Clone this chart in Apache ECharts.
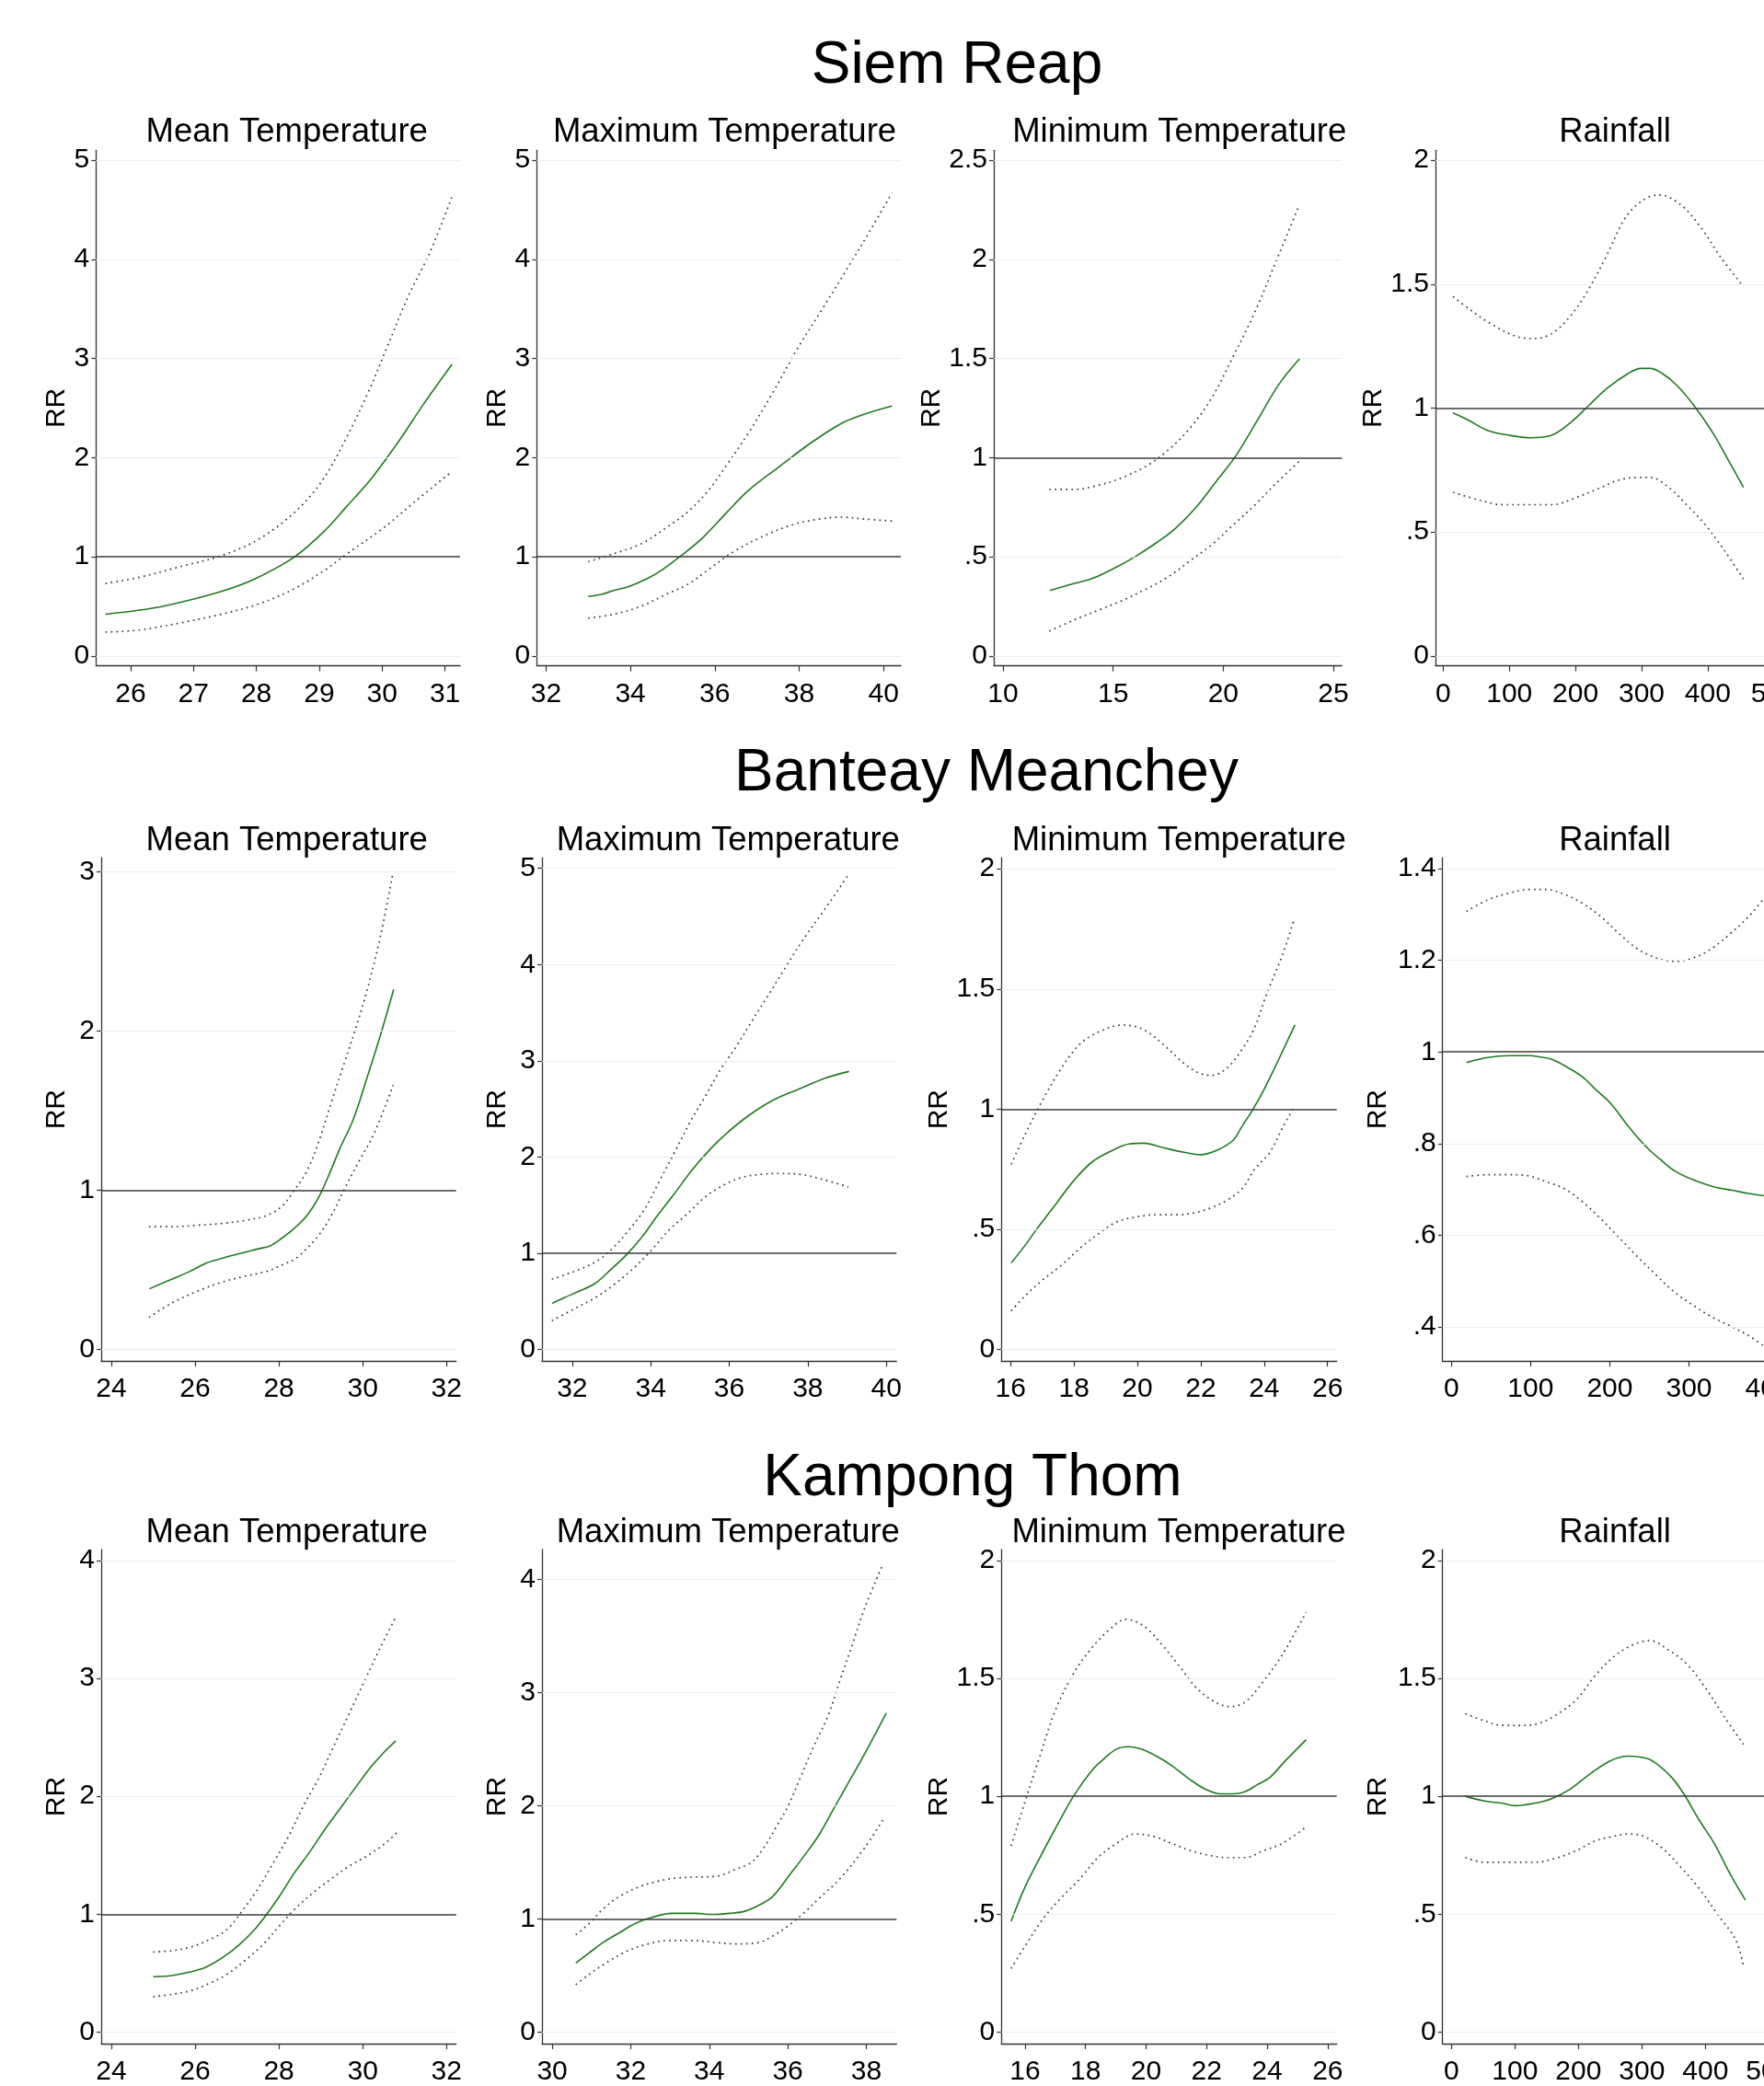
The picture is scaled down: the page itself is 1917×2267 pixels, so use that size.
<!DOCTYPE html>
<html><head><meta charset="utf-8">
<script src="https://cdn.jsdelivr.net/npm/echarts@6/dist/echarts.min.js"></script>
<style>html,body{margin:0;padding:0;background:#fff;overflow:hidden;width:1917px;height:2267px}#c{width:2000px;height:2267px}</style>
</head><body><div id="c"></div>
<script>
// ---------- DATA ----------
const regions = ['Siem Reap', 'Banteay Meanchey', 'Kampong Thom'];
const panelTitles = ['Mean Temperature', 'Maximum Temperature', 'Minimum Temperature', 'Rainfall'];

// Siem Reap
const srMeanXTicks = [26, 27, 28, 29, 30, 31];
const srMeanYTicks = [0, 1, 2, 3, 4, 5];
const srMeanRR = [[25.6,0.42],[26.12,0.46],[26.51,0.50],[27.05,0.58],[27.59,0.68],[28.02,0.79],[28.61,1.0],[29.1,1.27],[29.44,1.51],[29.83,1.79],[30.27,2.17],[30.66,2.54],[31.11,2.94]];
const srMeanHi = [[25.6,0.73],[26.12,0.79],[26.85,0.91],[27.44,1.01],[28.02,1.17],[28.61,1.45],[29.05,1.77],[29.44,2.21],[29.78,2.66],[30.07,3.10],[30.41,3.62],[30.76,4.07],[31.11,4.63]];
const srMeanLo = [[25.6,0.24],[26.12,0.26],[26.85,0.34],[27.44,0.42],[28.02,0.52],[28.61,0.68],[29.1,0.87],[29.44,1.03],[30.02,1.29],[30.51,1.55],[31.11,1.86]];

const srMaxXTicks = [32, 34, 36, 38, 40];
const srMaxYTicks = [0, 1, 2, 3, 4, 5];
const srMaxRR = [[33.0,0.60],[33.31,0.62],[33.6,0.66],[33.96,0.70],[34.4,0.78],[34.76,0.87],[35.2,1.01],[35.71,1.19],[36.29,1.45],[36.8,1.67],[37.53,1.91],[38.25,2.14],[38.98,2.34],[39.56,2.44],[40.2,2.52]];
const srMaxHi = [[33.0,0.95],[33.6,1.03],[34.25,1.13],[34.84,1.29],[35.35,1.45],[35.85,1.67],[36.29,1.93],[36.8,2.25],[37.38,2.66],[37.96,3.10],[38.55,3.50],[39.13,3.90],[39.71,4.31],[40.2,4.67]];
const srMaxLo = [[33.0,0.38],[33.6,0.42],[34.25,0.50],[34.84,0.62],[35.35,0.72],[35.85,0.87],[36.44,1.05],[37.16,1.21],[37.89,1.33],[38.47,1.38],[38.98,1.40],[39.56,1.38],[40.2,1.36]];

const srMinXTicks = [10, 15, 20, 25];
const srMinYTicks = [0, 0.5, 1, 1.5, 2, 2.5];
const srMinRR = [[12.13,0.33],[13.06,0.36],[14.04,0.39],[15.01,0.44],[15.99,0.50],[16.96,0.57],[17.8,0.64],[18.77,0.75],[19.75,0.89],[20.58,1.01],[21.56,1.19],[22.53,1.37],[23.48,1.50]];
const srMinHi = [[12.1,0.84],[13.2,0.84],[14.32,0.86],[15.43,0.90],[16.55,0.96],[17.52,1.04],[18.5,1.15],[19.47,1.30],[20.45,1.51],[21.42,1.73],[22.4,1.99],[23.44,2.27]];
const srMinLo = [[12.1,0.125],[13.2,0.18],[14.32,0.23],[15.43,0.28],[16.55,0.34],[17.52,0.40],[18.5,0.48],[19.47,0.56],[20.45,0.66],[21.42,0.76],[22.4,0.87],[23.44,0.98]];

const srRainXTicks = [0, 100, 200, 300, 400, 500];
const srRainYTicks = [0, 0.5, 1, 1.5, 2];
const srRainRR = [[15,0.98],[39,0.95],[67,0.91],[100,0.89],[132,0.88],[164,0.89],[192,0.94],[220,1.01],[248,1.08],[280,1.14],[299,1.16],[313,1.16],[331,1.14],[354,1.09],[382,1.00],[410,0.89],[429,0.80],[454,0.68]];
const srRainHi = [[15,1.45],[39,1.40],[72,1.34],[109,1.29],[137,1.28],[164,1.30],[192,1.37],[220,1.48],[248,1.62],[276,1.77],[303,1.84],[327,1.86],[359,1.82],[392,1.72],[419,1.61],[454,1.49]];
const srRainLo = [[15,0.66],[53,0.63],[90,0.61],[127,0.61],[164,0.61],[202,0.64],[239,0.68],[266,0.71],[294,0.72],[313,0.72],[341,0.68],[368,0.61],[396,0.53],[424,0.43],[454,0.31]];

// Banteay Meanchey
const bmMeanXTicks = [24, 26, 28, 30, 32];
const bmMeanYTicks = [0, 1, 2, 3];
const bmMeanRR = [[24.91,0.38],[25.44,0.44],[25.88,0.49],[26.25,0.54],[26.62,0.57],[27.05,0.60],[27.49,0.63],[27.79,0.65],[28.08,0.70],[28.37,0.76],[28.67,0.84],[28.96,0.96],[29.25,1.13],[29.47,1.27],[29.77,1.44],[30.06,1.67],[30.42,1.97],[30.74,2.26]];
const bmMeanHi = [[24.9,0.77],[25.44,0.77],[26.1,0.78],[26.62,0.79],[27.2,0.81],[27.71,0.84],[28.08,0.90],[28.37,1.00],[28.67,1.12],[28.96,1.31],[29.25,1.55],[29.55,1.79],[29.84,2.02],[30.13,2.28],[30.42,2.59],[30.72,2.99]];
const bmMeanLo = [[24.9,0.20],[25.44,0.29],[26.1,0.37],[26.62,0.42],[27.2,0.46],[27.71,0.49],[28.08,0.53],[28.45,0.58],[28.96,0.72],[29.25,0.84],[29.55,1.00],[29.91,1.18],[30.28,1.36],[30.73,1.66]];

const bmMaxXTicks = [32, 34, 36, 38, 40];
const bmMaxYTicks = [0, 1, 2, 3, 4, 5];
const bmMaxRR = [[31.49,0.48],[31.8,0.54],[32.2,0.61],[32.59,0.69],[32.98,0.83],[33.37,0.98],[33.76,1.16],[34.15,1.38],[34.62,1.63],[35.08,1.88],[35.51,2.08],[35.94,2.25],[36.49,2.43],[37.11,2.59],[37.74,2.70],[38.44,2.82],[39.05,2.89]];
const bmMaxHi = [[31.48,0.73],[32.04,0.81],[32.59,0.91],[33.05,1.06],[33.44,1.24],[33.83,1.45],[34.22,1.75],[34.62,2.06],[35.01,2.37],[35.4,2.64],[35.79,2.92],[36.18,3.15],[36.57,3.41],[36.96,3.66],[37.43,3.97],[37.9,4.27],[38.44,4.58],[39.03,4.93]];
const bmMaxLo = [[31.48,0.30],[32.04,0.42],[32.59,0.54],[33.05,0.67],[33.52,0.83],[33.99,1.02],[34.46,1.24],[34.93,1.41],[35.4,1.59],[35.86,1.71],[36.33,1.79],[36.8,1.82],[37.27,1.83],[37.82,1.82],[38.36,1.77],[39.03,1.69]];

const bmMinXTicks = [16, 18, 20, 22, 24, 26];
const bmMinYTicks = [0, 0.5, 1, 1.5, 2];
const bmMinRR = [[16.02,0.36],[16.44,0.43],[16.82,0.50],[17.4,0.60],[17.98,0.70],[18.57,0.78],[19.24,0.83],[19.73,0.855],[20.21,0.858],[20.79,0.84],[21.47,0.82],[22.0,0.81],[22.53,0.83],[23.02,0.87],[23.31,0.93],[23.65,1.00],[23.99,1.08],[24.47,1.21],[24.97,1.35]];
const bmMinHi = [[16.02,0.77],[16.44,0.89],[17.02,1.04],[17.6,1.17],[18.18,1.27],[18.76,1.32],[19.53,1.35],[20.21,1.33],[20.89,1.26],[21.47,1.19],[21.95,1.15],[22.34,1.14],[22.82,1.17],[23.31,1.25],[23.7,1.34],[24.08,1.48],[24.57,1.64],[24.95,1.79]];
const bmMinLo = [[16.02,0.16],[16.44,0.22],[17.02,0.29],[17.6,0.35],[18.18,0.42],[18.76,0.48],[19.34,0.53],[19.92,0.55],[20.6,0.56],[21.28,0.56],[21.86,0.57],[22.34,0.59],[22.82,0.62],[23.31,0.67],[23.7,0.75],[24.18,0.82],[24.57,0.92],[24.95,1.01]];

const bmRainXTicks = [0, 100, 200, 300, 400];
const bmRainYTicks = [0.4, 0.6, 0.8, 1, 1.2, 1.4];
const bmRainRR = [[19,0.977],[46,0.988],[73,0.992],[100,0.992],[112,0.989],[127,0.984],[150,0.963],[166,0.945],[181,0.920],[201,0.888],[224,0.836],[247,0.791],[266,0.762],[282,0.740],[305,0.721],[332,0.705],[355,0.698],[375,0.691],[395,0.686]];
const bmRainHi = [[19,1.307],[46,1.332],[73,1.347],[100,1.355],[119,1.355],[143,1.344],[166,1.324],[189,1.295],[212,1.258],[235,1.225],[259,1.205],[282,1.198],[305,1.205],[328,1.225],[352,1.258],[375,1.295],[395,1.336]];
const bmRainLo = [[19,0.728],[46,0.732],[73,0.732],[96,0.730],[119,0.717],[143,0.701],[166,0.672],[189,0.635],[212,0.594],[235,0.553],[259,0.512],[282,0.475],[305,0.447],[328,0.422],[352,0.402],[375,0.381],[395,0.357]];

// Kampong Thom
const ktMeanXTicks = [24, 26, 28, 30, 32];
const ktMeanYTicks = [0, 1, 2, 3, 4];
const ktMeanRR = [[25.0,0.47],[25.44,0.48],[25.88,0.51],[26.25,0.55],[26.69,0.64],[27.05,0.74],[27.42,0.87],[27.71,1.00],[28.01,1.15],[28.37,1.35],[28.74,1.53],[29.1,1.72],[29.47,1.90],[29.84,2.08],[30.2,2.25],[30.5,2.37],[30.79,2.47]];
const ktMeanHi = [[25.0,0.68],[25.44,0.69],[25.88,0.72],[26.32,0.78],[26.76,0.87],[27.13,1.03],[27.49,1.21],[27.86,1.43],[28.23,1.66],[28.59,1.92],[28.96,2.16],[29.33,2.44],[29.69,2.71],[30.06,2.99],[30.42,3.26],[30.79,3.52]];
const ktMeanLo = [[25.0,0.30],[25.44,0.32],[25.88,0.35],[26.32,0.41],[26.76,0.49],[27.2,0.61],[27.64,0.75],[28.01,0.90],[28.37,1.04],[28.81,1.18],[29.25,1.30],[29.69,1.41],[30.13,1.50],[30.5,1.59],[30.81,1.69]];

const ktMaxXTicks = [30, 32, 34, 36, 38];
const ktMaxYTicks = [0, 1, 2, 3, 4];
const ktMaxRR = [[30.6,0.61],[30.94,0.70],[31.33,0.80],[31.72,0.88],[32.11,0.96],[32.5,1.01],[33.04,1.05],[33.67,1.05],[34.06,1.04],[34.53,1.05],[34.92,1.07],[35.31,1.13],[35.62,1.20],[36.09,1.41],[36.4,1.55],[36.79,1.74],[37.18,1.98],[37.57,2.22],[37.96,2.46],[38.51,2.82]];
const ktMaxHi = [[30.6,0.86],[30.94,0.96],[31.33,1.10],[31.72,1.20],[32.19,1.28],[32.65,1.33],[33.12,1.36],[33.67,1.37],[34.22,1.38],[34.68,1.44],[35.07,1.50],[35.39,1.63],[35.7,1.81],[36.01,2.00],[36.32,2.25],[36.64,2.51],[37.03,2.80],[37.34,3.12],[37.65,3.43],[37.96,3.75],[38.43,4.14]];
const ktMaxLo = [[30.6,0.42],[30.94,0.51],[31.41,0.62],[31.87,0.71],[32.34,0.77],[32.97,0.81],[33.59,0.81],[34.22,0.79],[34.68,0.78],[35.23,0.79],[35.62,0.85],[36.01,0.94],[36.4,1.05],[36.79,1.18],[37.34,1.36],[37.96,1.63],[38.43,1.88]];

const ktMinXTicks = [16, 18, 20, 22, 24, 26];
const ktMinYTicks = [0, 0.5, 1, 1.5, 2];
const ktMinRR = [[15.54,0.47],[15.98,0.61],[16.49,0.74],[16.99,0.86],[17.6,1.00],[18.21,1.11],[18.62,1.16],[19.02,1.20],[19.43,1.21],[19.84,1.20],[20.34,1.17],[20.85,1.13],[21.46,1.07],[21.96,1.03],[22.47,1.01],[22.88,1.01],[23.28,1.02],[23.69,1.05],[24.09,1.08],[24.6,1.15],[25.29,1.24]];
const ktMinHi = [[15.54,0.79],[15.98,0.97],[16.49,1.17],[16.99,1.36],[17.6,1.52],[18.21,1.63],[18.82,1.71],[19.33,1.75],[19.94,1.72],[20.54,1.64],[21.05,1.56],[21.66,1.46],[22.27,1.40],[22.77,1.38],[23.28,1.40],[23.89,1.49],[24.5,1.60],[25.29,1.78]];
const ktMinLo = [[15.54,0.27],[15.98,0.36],[16.59,0.48],[17.2,0.57],[17.81,0.65],[18.41,0.74],[19.02,0.80],[19.63,0.84],[20.24,0.83],[20.85,0.80],[21.46,0.77],[22.06,0.75],[22.67,0.74],[23.28,0.74],[23.89,0.77],[24.5,0.80],[25.29,0.87]];

const ktRainXTicks = [0, 100, 200, 300, 400, 500];
const ktRainYTicks = [0, 0.5, 1, 1.5, 2];
const ktRainRR = [[22,1.00],[52,0.98],[81,0.97],[100,0.96],[130,0.97],[158,0.99],[187,1.03],[216,1.09],[250,1.15],[279,1.17],[308,1.16],[327,1.13],[347,1.08],[366,1.01],[390,0.90],[414,0.80],[439,0.67],[463,0.56]];
const ktRainHi = [[22,1.35],[52,1.32],[81,1.30],[110,1.30],[139,1.31],[168,1.35],[197,1.41],[226,1.51],[255,1.59],[284,1.64],[313,1.66],[342,1.62],[371,1.56],[400,1.46],[429,1.34],[460,1.22]];
const ktRainLo = [[22,0.74],[52,0.72],[91,0.72],[130,0.72],[168,0.74],[197,0.77],[226,0.81],[255,0.83],[279,0.84],[303,0.83],[332,0.78],[361,0.70],[390,0.61],[419,0.50],[448,0.39],[460,0.28]];

const refRR = 1;

// ---------- LAYOUT (positions / axis extents) ----------
const FONT = '"Liberation Sans", Arial, Helvetica, sans-serif';
const panels = [
  // row 1
  {g:[104.3,163.3,395.7,560.3], x:[25.45,31.24], y:[-0.1,5.1],  xt:srMeanXTicks, yt:srMeanYTicks, rr:srMeanRR, lo:srMeanLo, hi:srMeanHi, gap:26},
  {g:[583.3,163.3,395.7,560.3], x:[31.78,40.41], y:[-0.1,5.1],  xt:srMaxXTicks,  yt:srMaxYTicks,  rr:srMaxRR,  lo:srMaxLo,  hi:srMaxHi,  gap:25},
  {g:[1080,163.3,378.3,560.3],  x:[9.58,25.39],  y:[-0.05,2.55],xt:srMinXTicks,  yt:srMinYTicks,  rr:srMinRR,  lo:srMinLo,  hi:srMinHi,  gap:43},
  {g:[1560,163.3,382,560.3],    x:[-11.6,519.8], y:[-0.04,2.04],xt:srRainXTicks, yt:srRainYTicks, rr:srRainRR, lo:srRainLo, hi:srRainHi, gap:45},
  // row 2
  {g:[110,932.2,385.7,547],     x:[23.76,32.23], y:[-0.074,3.087], xt:bmMeanXTicks, yt:bmMeanYTicks, rr:bmMeanRR, lo:bmMeanLo, hi:bmMeanHi, gap:33},
  {g:[589,932.2,385.3,547],     x:[31.23,40.26], y:[-0.12,5.11],   xt:bmMaxXTicks,  yt:bmMaxYTicks,  rr:bmMaxRR,  lo:bmMaxLo,  hi:bmMaxHi,  gap:33},
  {g:[1088.3,932.2,364.4,547],  x:[15.71,26.29], y:[-0.049,2.046], xt:bmMinXTicks,  yt:bmMinYTicks,  rr:bmMinRR,  lo:bmMinLo,  hi:bmMinHi,  gap:53},
  {g:[1567.7,932.2,379,547],    x:[-11.1,429.2], y:[0.325,1.424],  xt:bmRainXTicks, yt:bmRainYTicks, rr:bmRainRR, lo:bmRainLo, hi:bmRainHi, gap:55},
  // row 3
  {g:[110,1684,385.7,546.8],    x:[23.76,32.23], y:[-0.098,4.092], xt:ktMeanXTicks, yt:ktMeanYTicks, rr:ktMeanRR, lo:ktMeanLo, hi:ktMeanHi, gap:33},
  {g:[589,1684,385.3,546.8],    x:[29.74,38.77], y:[-0.102,4.265], xt:ktMaxXTicks,  yt:ktMaxYTicks,  rr:ktMaxRR,  lo:ktMaxLo,  hi:ktMaxHi,  gap:33},
  {g:[1088.3,1684,364.4,546.8], x:[15.22,26.3],  y:[-0.049,2.046], xt:ktMinXTicks,  yt:ktMinYTicks,  rr:ktMinRR,  lo:ktMinLo,  hi:ktMinHi,  gap:53},
  {g:[1567.7,1684,380,546.8],   x:[-13.9,536.8], y:[-0.049,2.046], xt:ktRainXTicks, yt:ktRainYTicks, rr:ktRainRR, lo:ktRainLo, hi:ktRainHi, gap:55}
];
const regionTitlePos = [[1040,72],[1072,841],[1057,1607]];
const subTitleY = [144,914,1666];
const subTitleX = [[311.7,787.5,1281.7,1755],[311.7,791.3,1281.2,1755],[311.7,791.3,1281,1755]];

function fmt(v){
  let s = String(Number(v.toFixed(3)));
  if (s.startsWith('0.')) s = s.slice(1);
  return s;
}

const grid = [], xAxis = [], yAxis = [], series = [];
const axisCol = '#333';
panels.forEach((p, i) => {
  grid.push({left:p.g[0], top:p.g[1], width:p.g[2], height:p.g[3], containLabel:false, show:false});
  xAxis.push({
    type:'value', gridIndex:i, min:p.x[0], max:p.x[1],
    axisLine:{show:true, onZero:false, lineStyle:{color:axisCol, width:1.3}},
    axisTick:{show:true, length:6, customValues:p.xt, lineStyle:{color:axisCol, width:1.2}},
    axisLabel:{show:true, customValues:p.xt, fontSize:30, color:'#000', fontFamily:FONT, margin:16, formatter:fmt, hideOverlap:false, showMinLabel:true, showMaxLabel:true},
    splitLine:{show:false}
  });
  yAxis.push({
    type:'value', gridIndex:i, min:p.y[0], max:p.y[1],
    name:'RR', nameLocation:'middle', nameGap:p.gap, nameRotate:90,
    nameTextStyle:{fontSize:30, color:'#000', fontFamily:FONT},
    axisLine:{show:true, onZero:false, lineStyle:{color:axisCol, width:1.3}},
    axisTick:{show:true, length:5, customValues:p.yt, lineStyle:{color:axisCol, width:1.2}},
    axisLabel:{show:true, customValues:p.yt, fontSize:30, color:'#000', fontFamily:FONT, margin:7, padding:[6,0,0,0], formatter:fmt, hideOverlap:false, showMinLabel:true, showMaxLabel:true},
    splitLine:{show:false}
  });
  // gridlines + reference line at RR = 1
  const gl = p.yt.filter(v => v !== refRR).map(v => ({yAxis:v}));
  gl.push({yAxis:refRR, lineStyle:{color:'#3a3a3a', width:1.5, type:'solid'}});
  series.push({
    type:'line', xAxisIndex:i, yAxisIndex:i, data:p.rr, symbol:'none', silent:true, z:1,
    lineStyle:{opacity:0},
    markLine:{symbol:['none','none'], silent:true, animation:false, label:{show:false},
      lineStyle:{color:'#e7eff1', width:1.2, type:'solid'}, emphasis:{disabled:true}, data:gl}
  });
  const dotted = {color:'#3a3a3a', width:1.7, type:[1.7,4.3]};
  series.push({type:'line', xAxisIndex:i, yAxisIndex:i, data:p.hi, symbol:'none', smooth:0.35, z:3, lineStyle:dotted, silent:true});
  series.push({type:'line', xAxisIndex:i, yAxisIndex:i, data:p.lo, symbol:'none', smooth:0.35, z:3, lineStyle:dotted, silent:true});
  series.push({type:'line', xAxisIndex:i, yAxisIndex:i, data:p.rr, symbol:'none', smooth:0.35, z:4, lineStyle:{color:'#1f7a1f', width:1.6}, silent:true});
});

const graphic = [];
regions.forEach((r, k) => {
  graphic.push({type:'text', x:regionTitlePos[k][0], y:regionTitlePos[k][1], silent:true,
    style:{text:r, fontSize:64, fontFamily:FONT, fill:'#000', align:'center', verticalAlign:'middle', textAlign:'center', textVerticalAlign:'middle'}});
  panelTitles.forEach((t, j) => {
    graphic.push({type:'text', x:subTitleX[k][j], y:subTitleY[k], silent:true,
      style:{text:t, fontSize:36.5, fontFamily:FONT, fill:'#000', align:'center', verticalAlign:'middle', textAlign:'center', textVerticalAlign:'middle'}});
  });
});

const chart = echarts.init(document.getElementById('c'), null, {renderer:'canvas', width:2000, height:2267});
chart.setOption({
  backgroundColor:'#ffffff',
  animation:false,
  textStyle:{fontFamily:FONT},
  grid, xAxis, yAxis, series, graphic
});
</script>
</body></html>
